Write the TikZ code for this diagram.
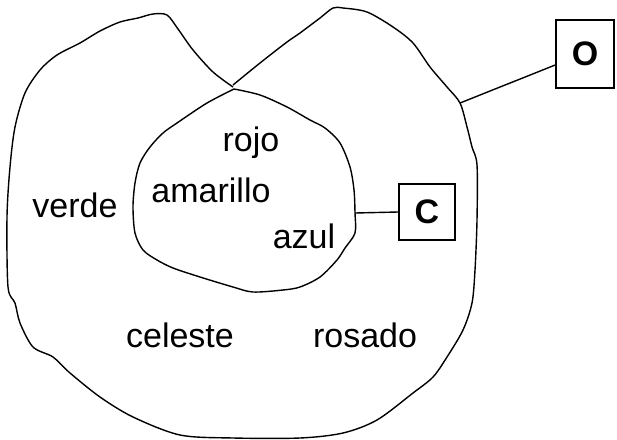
\documentclass[tikz,border=0pt]{standalone}
\usepackage{fontspec}
\setmainfont{Liberation Sans}
\begin{document}
\begin{tikzpicture}[x=1pt,y=-1pt,
  region/.style={line width=1.4pt,line join=round},
  lbl/.style={font=\fontsize{34}{40}\selectfont,inner sep=0pt,anchor=base},
  setbox/.style={draw,line width=1.6pt,font=\fontsize{34}{40}\selectfont\bfseries,
    inner sep=0pt,minimum width=#1,minimum height=#1},
  link/.style={line width=1.4pt}]
\useasboundingbox (0,0) rectangle (617,439);

% outer set O
\draw[region] plot[smooth,tension=0.5] coordinates {
  (233,87) (213,72) (193,50) (178,29) (167,15) (153,14) (138,18) (120,22)
  (100,31) (80,43) (57,55) (40,70) (25,93) (15,127) (10,167) (7,217) (8,287)
  (15,303) (20,323) (33,347) (53,357) (70,373) (100,397) (133,417)
  (180,435) (233,438) (300,438) (343,433) (377,420) (413,393) (433,377)
  (447,357) (463,330) (472,303) (475,270) (477,220) (477,165) (472,147)
  (467,127) (460,103) (447,87) (430,67) (413,43) (393,27) (367,12)
  (343,8) (333,8) (320,18) (300,33) (287,42) (260,63) (233,85)};
\coordinate (oattach) at (460,103);

% inner set C
\draw[region] plot[smooth,tension=0.5] coordinates {
  (234,89) (260,95) (287,107) (310,120) (325,128) (340,143) (350,167)
  (354,190) (355,213) (355,233) (345,248) (337,260) (320,277) (300,287)
  (283,290) (253,292) (233,287) (200,277) (173,268) (157,260) (143,250)
  (135,233) (133,207) (135,183) (140,163) (150,147) (163,133) (177,123)
  (207,103) (234,89)};
\coordinate (cattach) at (355,213);

% set names
\node[setbox=68pt,minimum width=58pt] (O) at (585,54) {O};
\node[setbox=56pt] (C) at (427,212) {C};
\draw[link] (oattach) -- ([yshift=-11pt]O.west);
\draw[link] (cattach) -- (C.west);

% elements
\node[lbl] (rojo) at (251,151) {rojo};
\node[lbl] (amarillo) at (211,202) {amarillo};
\node[lbl] (verde) at (75,217) {verde};
\node[lbl] (azul) at (304,248) {azul};
\node[lbl] (celeste) at (180,347) {celeste};
\node[lbl] (rosado) at (365,347) {rosado};
\end{tikzpicture}
\end{document}
